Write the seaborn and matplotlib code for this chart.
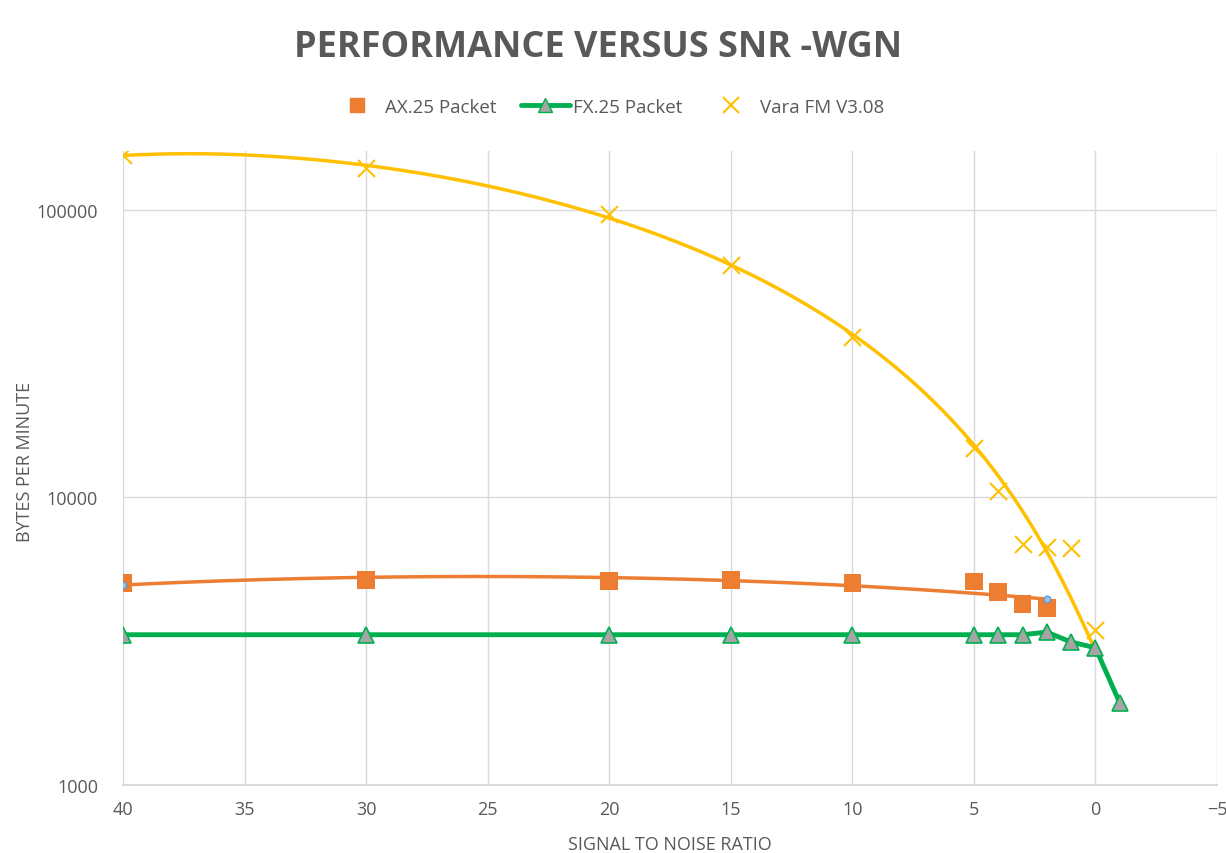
import numpy as np
import pandas as pd
import matplotlib
matplotlib.use("Agg")
import matplotlib.pyplot as plt
import seaborn as sns
from matplotlib.lines import Line2D

# Values (SNR in dB, throughput in bytes per minute)
ax25_snr = [40, 30, 20, 15, 10, 5, 4, 3, 2]
ax25_bpm = [5040, 5160, 5120, 5160, 5040, 5100, 4690, 4260, 4130]

fx25_snr = [40, 30, 20, 15, 10, 5, 4, 3, 2, 1, 0, -1]
fx25_bpm = [3330, 3330, 3330, 3330, 3330, 3330, 3330, 3330, 3400, 3140, 3000, 1930]

vara_snr = [40, 30, 20, 15, 10, 5, 4, 3, 2, 1, 0]
vara_bpm = [155000, 140000, 97000, 64400, 36100, 14900, 10500, 6900, 6700, 6650, 3460]

x_ticks = [40, 35, 30, 25, 20, 15, 10, 5, 0, -5]
y_ticks = [1000, 10000, 100000]

ORANGE = "#ED7D31"
GREEN = "#00B050"
GREY = "#A5A5A5"
YELLOW = "#FFC000"
TEXT = "#595959"
GRID = "#D9D9D9"

sns.set_style("white")
plt.rcParams["font.family"] = ["Open Sans", "DejaVu Sans"]

ax25 = pd.DataFrame({"snr": ax25_snr, "bpm": ax25_bpm})
fx25 = pd.DataFrame({"snr": fx25_snr, "bpm": fx25_bpm})
vara = pd.DataFrame({"snr": vara_snr, "bpm": vara_bpm})

# polynomial trendlines like the spreadsheet ones
xs_a = np.linspace(min(ax25_snr), max(ax25_snr), 200)
trend_a = np.polyval(np.polyfit(ax25.snr, ax25.bpm, 2), xs_a)
xs_v = np.linspace(min(vara_snr), max(vara_snr), 300)
trend_v = np.polyval(np.polyfit(vara.snr, vara.bpm, 3), xs_v)

fig = plt.figure(figsize=(12.26, 8.54), dpi=100)
ax = fig.add_axes([123 / 1226, 68 / 854, 1094 / 1226, 634 / 854])

ax.plot(xs_v, trend_v, color=YELLOW, lw=2.5, zorder=3)
ax.plot(xs_a, trend_a, color=ORANGE, lw=2.5, zorder=3)
sns.lineplot(data=fx25, x="snr", y="bpm", ax=ax, color=GREEN, lw=3.5,
             marker="^", markersize=12, markerfacecolor=GREY,
             markeredgecolor=GREEN, markeredgewidth=1.2, zorder=4)
sns.scatterplot(data=ax25, x="snr", y="bpm", ax=ax, color=ORANGE,
                marker="s", s=160, edgecolor="none", zorder=5)
sns.scatterplot(data=vara, x="snr", y="bpm", ax=ax, color=YELLOW,
                marker="x", s=150, linewidth=1.5, zorder=5)
# trendline end handles
ax.scatter([xs_a[0], xs_a[-1]], [trend_a[0], trend_a[-1]], s=22,
           color="#9DC3E6", edgecolor="#5B9BD5", lw=1, zorder=6)

ax.set_yscale("log")
ax.set_xlim(40, -5)
ax.set_ylim(1000, 160000)
ax.set_xticks(x_ticks)
ax.set_yticks(y_ticks)
ax.set_yticklabels([str(v) for v in y_ticks])
ax.yaxis.set_minor_locator(matplotlib.ticker.NullLocator())
ax.tick_params(length=0, labelsize=13, colors=TEXT)
ax.tick_params(axis="x", pad=11)
ax.tick_params(axis="y", pad=18)
ax.grid(True, color=GRID, lw=1)
for s in ["top", "right"]:
    ax.spines[s].set_visible(False)
ax.spines["left"].set_color(GRID)
ax.spines["bottom"].set_color(GRID)
ax.spines["bottom"].set_linewidth(1.5)

ax.set_xlabel("SIGNAL TO NOISE RATIO", fontsize=13, color=TEXT, va="center")
ax.set_ylabel("BYTES PER MINUTE", fontsize=13, color=TEXT, va="center")
ax.xaxis.set_label_coords(0.5, -(845 - 786) / 634)
ax.yaxis.set_label_coords(-(123 - 25) / 1094, (786 - 462) / 634)

fig.text(0.488, 0.944, "PERFORMANCE VERSUS SNR -WGN", ha="center", va="center",
         fontsize=26, fontweight="bold", color=TEXT)

handles = [
    Line2D([], [], ls="none", marker="s", markersize=10, color=ORANGE),
    Line2D([], [], color=GREEN, lw=3.5, marker="^", markersize=10,
           markerfacecolor=GREY, markeredgecolor=GREEN),
    Line2D([], [], ls="none", marker="x", markersize=11, color=YELLOW, mew=1.5),
]
fig.legend(handles, ["AX.25 Packet", "FX.25 Packet", "Vara FM V3.08"],
           loc="center", bbox_to_anchor=(0.496, 0.874), ncol=3, frameon=False,
           fontsize=13.5, labelcolor=TEXT, columnspacing=1.3, handlelength=2.6,
           handletextpad=0.2)

fig.savefig("out.png", dpi=100)
